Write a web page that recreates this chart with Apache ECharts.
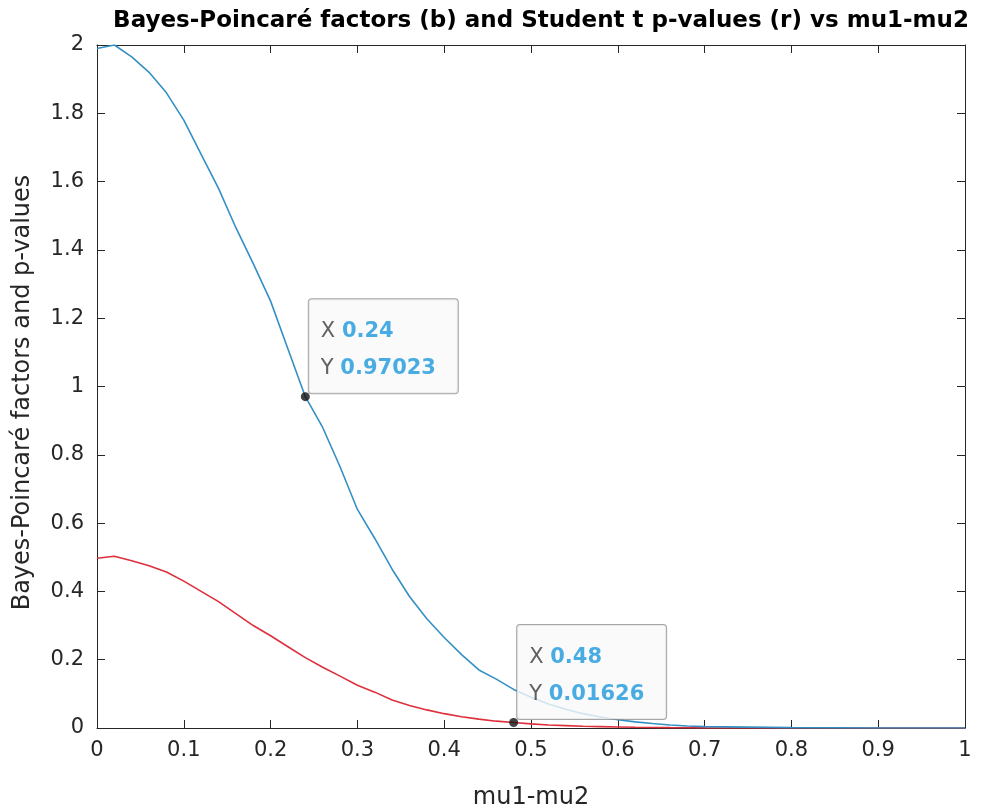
<!DOCTYPE html>
<html>
<head>
<meta charset="utf-8">
<script src="https://cdn.jsdelivr.net/npm/echarts@6/dist/echarts.min.js"></script>
<style>html,body{margin:0;padding:0;background:#fff}#c{width:992px;height:812px}</style>
</head>
<body>
<div id="c"></div>
<script>
const xs = [0,0.02,0.04,0.06,0.08,0.10,0.12,0.14,0.16,0.18,0.20,0.22,0.24,0.26,0.28,0.30,0.32,0.34,0.36,0.38,0.40,0.42,0.44,0.46,0.48,0.50,0.52,0.54,0.56,0.58,0.60,0.62,0.64,0.66,0.68,0.70,0.80,0.90,1.00];
const bayes = [1.99,2.00,1.965,1.92,1.86,1.78,1.68,1.58,1.465,1.36,1.25,1.11,0.97023,0.88,0.765,0.64,0.555,0.465,0.385,0.32,0.265,0.215,0.17,0.143,0.113,0.09,0.07,0.055,0.042,0.032,0.024,0.018,0.013,0.009,0.006,0.004,0.001,0.0002,0];
const pvals = [0.497,0.503,0.49,0.475,0.457,0.43,0.40,0.37,0.335,0.30,0.27,0.238,0.206,0.178,0.152,0.125,0.105,0.082,0.066,0.053,0.042,0.033,0.026,0.020,0.01626,0.012,0.009,0.007,0.005,0.004,0.003,0.002,0.0015,0.001,0.0007,0.0005,0.0001,0,0];
const xTicks = [0,0.1,0.2,0.3,0.4,0.5,0.6,0.7,0.8,0.9,1];
const yTicks = [0,0.2,0.4,0.6,0.8,1,1.2,1.4,1.6,1.8,2];
const tipIdx = [12, 24]; // data tips: blue at 0.24, red at 0.48

const FONT = '"DejaVu Sans", Verdana, sans-serif';
const AX = '#262626';
const chart = echarts.init(document.getElementById('c'));

function tipLabel(pos) {
  return {
    show: true,
    position: pos,
    align: 'left',
    verticalAlign: 'top',
    backgroundColor: '#f9f9fa',
    borderColor: '#8f8f8f',
    borderWidth: 1,
    borderRadius: 3,
    padding: [14, 10, 6, 12],
    width: 127,
    lineHeight: 37,
    formatter: p => '{k|X }{v|' + p.value[0] + '}\n{k|Y }{v|' + p.value[1] + '}',
    rich: {
      k: { color: '#3a3a3a', fontSize: 21, fontFamily: FONT, lineHeight: 37 },
      v: { color: '#1c98dc', fontSize: 21, fontWeight: 'bold', fontFamily: FONT, lineHeight: 37 }
    }
  };
}

const axCommon = {
  type: 'value', min: 0, max: 1, interval: 0.1,
  axisLine: { show: true, onZero: false, lineStyle: { color: AX, width: 1 } },
  axisTick: { show: true, inside: true, length: 8, lineStyle: { color: AX } },
  splitLine: { show: false }
};

chart.setOption({
  animation: false,
  backgroundColor: '#fff',
  title: {
    text: 'Bayes-Poincaré factors (b) and Student t p-values (r) vs mu1-mu2',
    left: 536, top: 5, textAlign: 'center',
    textStyle: { fontFamily: FONT, fontSize: 23, fontWeight: 'bold', color: '#000' }
  },
  grid: { left: 97, right: 27, top: 45, bottom: 84, containLabel: false, outerBoundsMode: 'none' },
  xAxis: [
    Object.assign({}, axCommon, {
      position: 'bottom',
      name: 'mu1-mu2', nameLocation: 'middle', nameGap: 58,
      nameTextStyle: { fontFamily: FONT, fontSize: 24, color: AX },
      axisLabel: { show: true, color: AX, fontFamily: FONT, fontSize: 21, margin: 12,
        customValues: xTicks },
    }),
    Object.assign({}, axCommon, { position: 'top', axisLabel: { show: false } })
  ],
  yAxis: [
    Object.assign({}, axCommon, {
      min: 0, max: 2, interval: 0.2, position: 'left',
      name: 'Bayes-Poincaré factors and p-values', nameLocation: 'middle', nameGap: 62,
      nameTextStyle: { fontFamily: FONT, fontSize: 24, color: AX, padding: [0, 12, 0, 0] },
      axisLabel: { show: true, color: AX, fontFamily: FONT, fontSize: 21, margin: 13,
        customValues: yTicks }
    }),
    Object.assign({}, axCommon, { min: 0, max: 2, interval: 0.2, position: 'right', axisLabel: { show: false } })
  ],
  series: [
    { type: 'line', name: 'Bayes', data: xs.map((x, i) => [x, bayes[i]]), showSymbol: false,
      lineStyle: { color: '#3490c4', width: 1.6 }, z: 3 },
    { type: 'line', name: 'p', data: xs.map((x, i) => [x, pvals[i]]), showSymbol: false,
      lineStyle: { color: '#dd2f3c', width: 1.6 }, z: 2 },
    { type: 'scatter', zlevel: 1, data: [[xs[tipIdx[0]], bayes[tipIdx[0]]]], symbol: 'circle', symbolSize: 9,
      itemStyle: { color: '#111' }, label: tipLabel([8, -93]), z: 10 },
    { type: 'scatter', zlevel: 1, data: [[xs[tipIdx[1]], pvals[tipIdx[1]]]], symbol: 'circle', symbolSize: 9,
      itemStyle: { color: '#111' }, label: tipLabel([8, -93]), z: 10 }
  ]
});
</script>
</body>
</html>
